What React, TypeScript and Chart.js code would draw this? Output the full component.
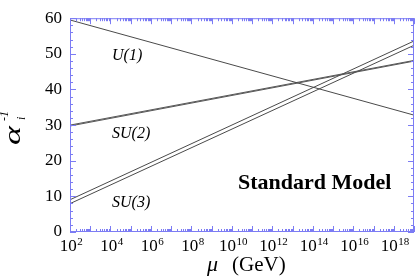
import { useEffect, useRef } from "react";
import { Chart, registerables } from "chart.js";

Chart.register(...registerables);

// ---- data ----
const energyGeV = [1e2, 1e19];
const u1Inverse = [59.5, 32.8];
const su2InverseUpper = [30.0, 48.15];
const su2InverseLower = [29.75, 47.95];
const su3InverseUpper = [9.05, 53.6];
const su3InverseLower = [7.96, 52.4];
const xTickExponents = [2, 4, 6, 8, 10, 12, 14, 16, 18];
const yTickStep = 10;
const yRange = [0, 60];
const curveLabels = ["U(1)", "SU(2)", "SU(3)"];
const modelLabel = "Standard Model";

const SERIF = '"Liberation Serif", "Times New Roman", Times, serif';
const FRAME = "#7c7cf4";
const LINE = "#4a4a4a";

const toPoints = (ys: number[]) => energyGeV.map((x, i) => ({ x, y: ys[i] }));

const decorPlugin = {
  id: "decor",
  afterDraw(chart: any) {
    const { ctx, chartArea: a, scales } = chart;
    const xs = scales.x;
    const ys = scales.y;
    ctx.save();
    // frame
    ctx.strokeStyle = FRAME;
    ctx.lineWidth = 1;
    ctx.strokeRect(a.left + 0.5, a.top + 0.5, a.right - a.left - 1, a.bottom - a.top - 1);
    // y ticks
    ctx.beginPath();
    for (let v = yRange[0]; v <= yRange[1]; v += 2) {
      const py = Math.round(ys.getPixelForValue(v)) + 0.5;
      const len = v % 10 === 0 ? 6 : 3;
      ctx.moveTo(a.left, py);
      ctx.lineTo(a.left + len, py);
      ctx.moveTo(a.right, py);
      ctx.lineTo(a.right - len, py);
    }
    // x ticks (log)
    const xmax = energyGeV[energyGeV.length - 1];
    for (let d = 2; d <= 19; d++) {
      for (let k = 1; k <= 9; k++) {
        const val = k * Math.pow(10, d);
        if (val > xmax * 1.0001) break;
        const px = Math.round(xs.getPixelForValue(val)) + 0.5;
        const len = k === 1 ? 6 : 3;
        ctx.moveTo(px, a.bottom);
        ctx.lineTo(px, a.bottom - len);
        ctx.moveTo(px, a.top);
        ctx.lineTo(px, a.top + len);
      }
    }
    ctx.stroke();

    // x tick labels with superscripts
    ctx.fillStyle = "#000";
    ctx.textBaseline = "alphabetic";
    ctx.textAlign = "left";
    for (const e of xTickExponents) {
      const px = xs.getPixelForValue(Math.pow(10, e));
      ctx.font = `17px ${SERIF}`;
      const wBase = ctx.measureText("10").width;
      ctx.font = `11px ${SERIF}`;
      const wSup = ctx.measureText(String(e)).width;
      const start = px - (wBase + wSup) / 2 + 1;
      ctx.font = `17px ${SERIF}`;
      ctx.fillText("10", start, a.bottom + 18.5);
      ctx.font = `11px ${SERIF}`;
      ctx.fillText(String(e), start + wBase + 0.5, a.bottom + 12.5);
    }

    // x axis title
    const cx = (a.left + a.right) / 2;
    ctx.font = `italic 22px ${SERIF}`;
    ctx.fillText("\u03bc", cx - 35, a.bottom + 39);
    ctx.font = `21px ${SERIF}`;
    ctx.fillText("(GeV)", cx - 10, a.bottom + 39);

    // y axis title (rotated)
    ctx.save();
    ctx.translate(20, 145);
    ctx.rotate(-Math.PI / 2);
    ctx.save();
    ctx.scale(1.5, 1);
    ctx.font = `italic 24px ${SERIF}`;
    ctx.fillText("\u03b1", 0, 0);
    ctx.restore();
    ctx.font = `italic 12px ${SERIF}`;
    ctx.fillText("-1", 24, -12);
    ctx.fillText("i", 25, 5);
    ctx.restore();

    // curve labels
    ctx.font = `italic 16px ${SERIF}`;
    ctx.fillText(curveLabels[0], a.left + 42, a.top + 42);
    ctx.fillText(curveLabels[1], a.left + 42, a.top + 120);
    ctx.fillText(curveLabels[2], a.left + 42, a.top + 189);

    // model label
    ctx.font = `bold 22px ${SERIF}`;
    ctx.fillText(modelLabel, a.right - 176, a.bottom - 43);
    ctx.restore();
  },
};

export default function App() {
  const ref = useRef<HTMLCanvasElement | null>(null);
  useEffect(() => {
    if (!ref.current) return;
    const line = (data: number[], width = 1, color = LINE) => ({
      data: toPoints(data),
      borderColor: color,
      borderWidth: width,
      pointRadius: 0,
      fill: false,
      tension: 0,
    });
    const chart = new Chart(ref.current, {
      type: "line",
      data: {
        datasets: [
          line(u1Inverse),
          line(su2InverseUpper, 1, "#555"),
          line(su2InverseLower, 1, "#555"),
          line(su3InverseUpper),
          line(su3InverseLower),
        ],
      },
      options: {
        animation: false,
        responsive: false,
        parsing: false as any,
        layout: { padding: { top: 13, right: 1, left: 0, bottom: 0 } },
        plugins: { legend: { display: false }, tooltip: { enabled: false } },
        scales: {
          x: {
            type: "logarithmic",
            min: energyGeV[0],
            max: energyGeV[energyGeV.length - 1],
            grid: { display: false, drawTicks: false },
            border: { display: false },
            ticks: { display: false },
            afterFit: (s: any) => {
              s.height = 44;
            },
          },
          y: {
            min: yRange[0],
            max: yRange[1],
            grid: { display: false, drawTicks: false },
            border: { display: false },
            ticks: {
              stepSize: yTickStep,
              padding: 8,
              color: "#000",
              font: { family: SERIF, size: 17 },
            },
            afterFit: (s: any) => {
              s.width = 70;
            },
          },
        },
      },
      plugins: [decorPlugin],
    } as any);
    return () => chart.destroy();
  }, []);
  return (
    <div style={{ position: "absolute", left: 0, top: 0, width: 415, height: 276, background: "#fff" }}>
      <canvas ref={ref} width={415} height={276} style={{ display: "block" }} />
    </div>
  );
}
